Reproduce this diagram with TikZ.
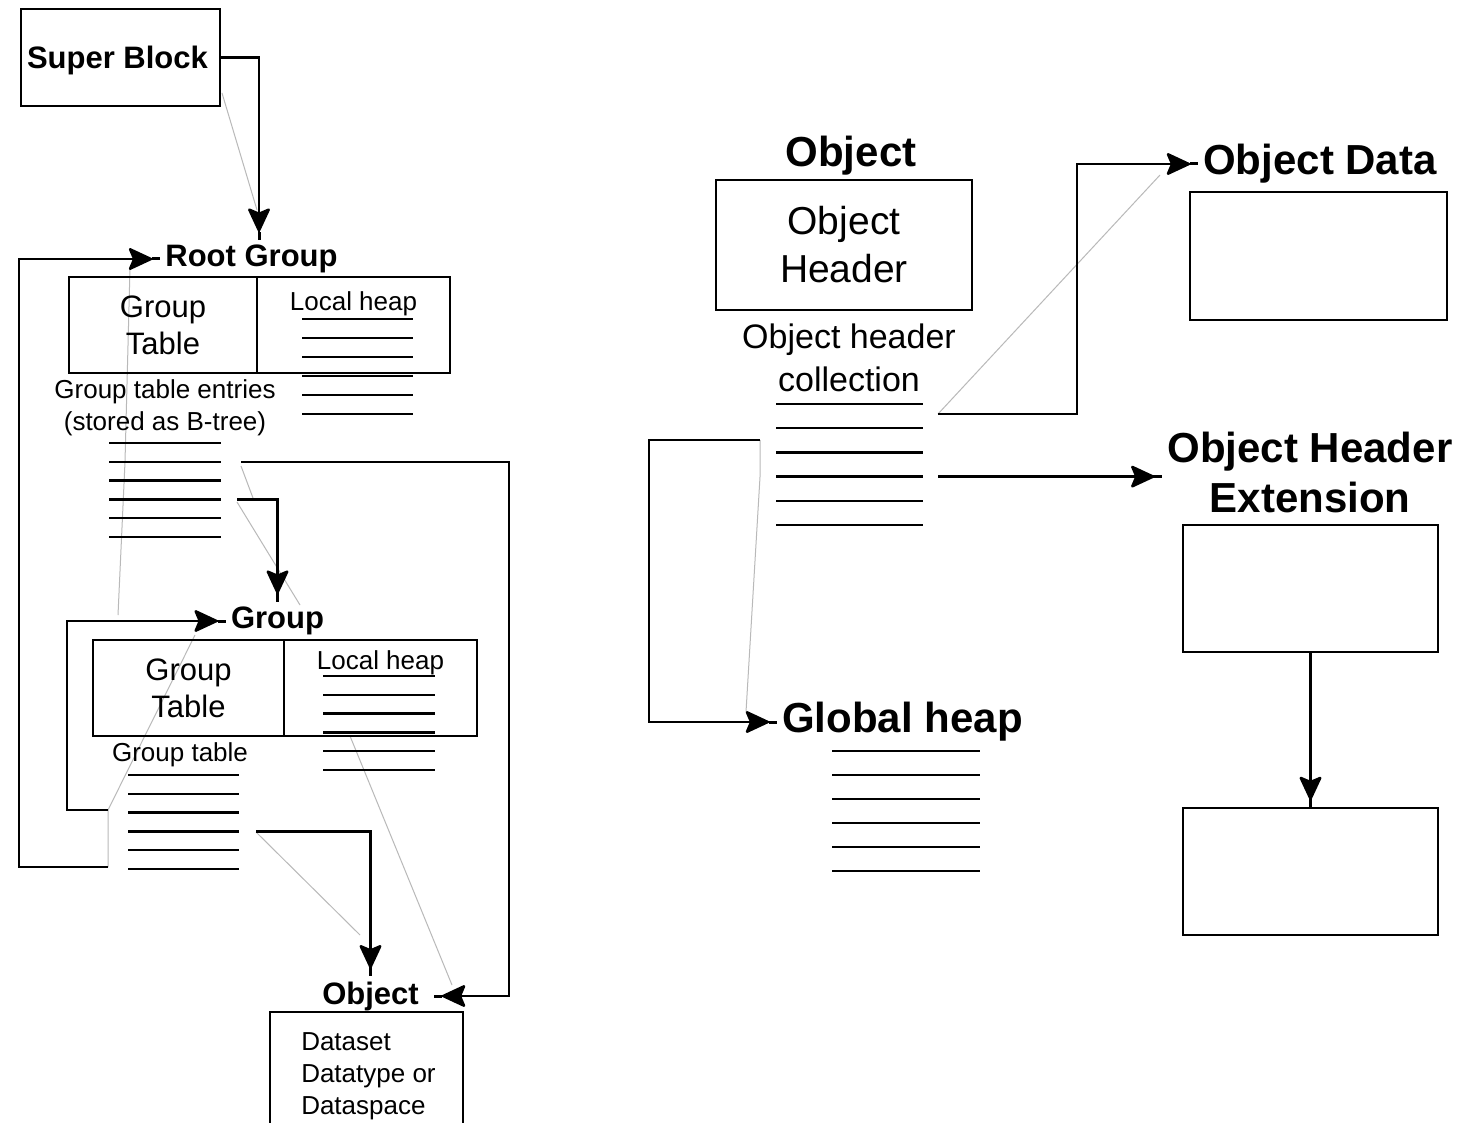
\documentclass[tikz,border=0pt]{standalone}
\usepackage{fontspec}
\setmainfont{Liberation Sans}
\usetikzlibrary{arrows.meta, positioning}
\tikzstyle{filemap}=[x=1pt, y=-1pt, line width=2.5pt, >={Stealth[length=26pt,width=24pt,inset=5pt,round]Rectangle[length=8pt,width=3pt]}]
\tikzstyle{blk}=[draw, line width=2.6pt, inner sep=0pt, outer sep=0pt, align=center, font=\fontsize{31}{37}\selectfont]
\tikzstyle{heading}=[font=\bfseries\fontsize{31}{37}\selectfont, inner sep=4pt]
\tikzstyle{bigheading}=[font=\bfseries\fontsize{42}{50}\selectfont, inner sep=4pt, align=center]
\tikzstyle{note}=[font=\fontsize{26}{32}\selectfont, inner sep=0pt, align=center]
\tikzstyle{ghost}=[line width=1pt, gray!55]

\begin{document}
\begin{tikzpicture}[filemap]
  \clip (0,0) rectangle (1473,1123);
  \fill[white] (0,0) rectangle (1473,1123);

  \coordinate (back1) at (108,867);
  \coordinate (back2) at (108,810);
  \coordinate (dataout) at (938,414);
  \coordinate (glout) at (760,440);

  \draw[ghost] (222,93) -- (257,210);
  \draw[ghost] (130,268) -- (125,462) -- (118,615);
  \draw[ghost] (back1) -- (back2) -- (195,635);
  \draw[ghost] (241,466) -- (253,498);
  \draw[ghost] (237,502) -- (300,605);
  \draw[ghost] (256,832) -- (360,935);
  \draw[ghost] (350,736) -- (452,985);
  \draw[ghost] (dataout) -- (1160,175);
  \draw[ghost] (glout) -- (760,477) -- (746,712);

  \node[blk, minimum width=199pt, minimum height=97pt] (sb) at (120.5,57.5) {};
  \node[heading] (sblbl) at (117.5,60) {Super Block};

  \node[heading] (rootlbl) at (251.5,259) {Root Group};
  \node[blk, minimum width=188pt, minimum height=96pt] (rtab) at (163,325) {Group\\Table};
  \node[blk, minimum width=193pt, minimum height=96pt, right=0pt of rtab] (rheap) {};
  \node[note, below=13pt of rheap.north] (rheaplbl) {Local heap};
  \foreach \k in {0,...,5}
    \draw (302,{319+19*\k}) -- (413,{319+19*\k});
  \node[note] (rentlbl) at (165,408) {Group table entries\\(stored as B-tree)};
  \foreach \k in {1,...,6}
    \draw (109,{424.2+18.8*\k}) -- (221,{424.2+18.8*\k}) coordinate (ent\k);

  \node[heading] (grplbl) at (277.5,621) {Group};
  \node[blk, minimum width=191pt, minimum height=96pt] (gtab) at (188.5,688) {Group\\Table};
  \node[blk, minimum width=193pt, minimum height=96pt, right=0pt of gtab] (gheap) {};
  \node[note, below=9pt of gheap.north] (gheaplbl) {Local heap};
  \foreach \k in {0,...,5}
    \draw (323,{676+18.8*\k}) -- (435,{676+18.8*\k});
  \node[note] (gentlbl) at (180,755) {Group table};
  \foreach \k in {1,...,6}
    \draw (128,{756.2+18.8*\k}) -- (239,{756.2+18.8*\k}) coordinate (gt\k);

  \node[heading] (objlbl) at (370.5,996) {Object};
  \node[blk, minimum width=193pt, minimum height=130pt, anchor=north] (objbox) at (366.5,1012) {};
  \node[note, align=left, anchor=north west] (objtxt) at (300,1031) {Dataset\\Datatype or\\Dataspace};

  \node[bigheading] (objhlbl) at (851,156) {Object};
  \node[blk, minimum width=256pt, minimum height=130pt, font=\fontsize{39}{48}\selectfont] (ohdr) at (844,245) {Object\\Header};
  \node[note, font=\fontsize{34}{43}\selectfont] (collbl) at (849,358) {Object header\\collection};
  \foreach \k in {1,...,6}
    \draw (776,{379.8+24.2*\k}) -- (923,{379.8+24.2*\k}) coordinate (col\k);

  \node[bigheading] (glheap) at (902.5,722) {Global heap};
  \foreach \k in {0,...,5}
    \draw (832,{751+24*\k}) -- (980,{751+24*\k});

  \node[bigheading] (odatalbl) at (1320,164) {Object Data};
  \node[blk, minimum width=257pt, minimum height=128pt] (odata) at (1318.5,256) {};
  \node[bigheading] (ohelbl) at (1310,472) {Object Header\\Extension};
  \node[blk, minimum width=255pt, minimum height=127pt] (ohe1) at (1310.5,588.5) {};
  \node[blk, minimum width=255pt, minimum height=127pt] (ohe2) at (1310.5,871.5) {};

  \draw[->] (sb.east) -| ([xshift=7.5pt]rootlbl.north);
  \draw[->] (back1) -- ++(-89,0) |- (rootlbl.west);
  \draw[->] ([xshift=20pt]ent2) -- ++(268,0) |- ([xshift=10pt]objlbl.east);
  \draw[->] ([xshift=16pt]ent4) -| (grplbl.north);
  \draw[->] (back2) -- ++(-41,0) |- (grplbl.west);
  \draw[->] ([xshift=17pt]gt4) -| (objlbl.north);
  \draw[->] (dataout) -- ++(139,0) |- (odatalbl.west);
  \draw[->] ([xshift=15pt]col4) -- (col4 -| ohelbl.west);
  \draw[->] (glout) -- ++(-111,0) |- (glheap.west);
  \draw[->] (ohe1) -- (ohe2);
\end{tikzpicture}
\end{document}
